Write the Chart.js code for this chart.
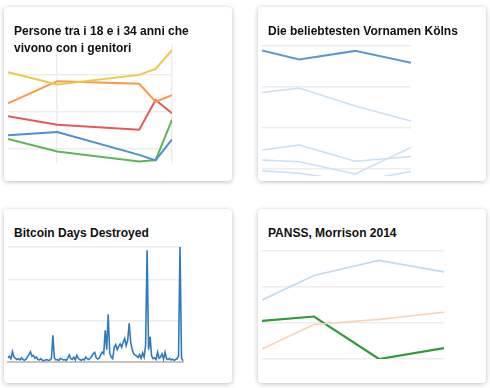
<!DOCTYPE html>
<html>
<head>
<meta charset="utf-8">
<script src="https://cdn.jsdelivr.net/npm/chart.js@4"></script>
<style>
  body { margin: 0; background: #fff; width: 490px; height: 388px; position: relative; overflow: hidden;
         font-family: "Liberation Sans", Arial, sans-serif; }
  .card { position: absolute; width: 228px; height: 174px; background: #fff; border-radius: 4px;
          box-shadow: 0 1px 5px rgba(0, 0, 0, 0.25); overflow: hidden; }
  .card h4 { position: absolute; left: 10px; top: 16px; width: 200px; margin: 0; font-size: 12px;
             line-height: 17px; font-weight: bold; color: #111; z-index: 2; }
  .card canvas { position: absolute; left: 0; }
</style>
</head>
<body>
<div class="card" style="left:4px; top:7px;">
  <h4>Persone tra i 18 e i 34 anni che vivono con i genitori</h4>
  <canvas id="persone" width="172" height="126" style="top:34px;"></canvas>
</div>
<div class="card" style="left:258px; top:7px;">
  <h4>Die beliebtesten Vornamen Kölns</h4>
  <canvas id="vornamen" width="157" height="138" style="top:35px;"></canvas>
</div>
<div class="card" style="left:4px; top:209px;">
  <h4>Bitcoin Days Destroyed</h4>
  <canvas id="bitcoin" width="183" height="123" style="top:34px;"></canvas>
</div>
<div class="card" style="left:258px; top:209px;">
  <h4>PANSS, Morrison 2014</h4>
  <canvas id="panss" width="190" height="116" style="top:38px;"></canvas>
</div>
<script>
// --- Persone tra i 18 e i 34 anni (%)
const personeYears = [2004, 2007, 2012, 2013, 2014];
const personeA = [60.6, 57.3, 59.9, 61.5, 66.6];
const personeB = [52.2, 58.2, 57.5, 52.6, 54.4];
const personeC = [48.7, 46.4, 45.0, 53.1, 49.5];
const personeD = [43.5, 44.4, 38.2, 36.7, 42.4];
const personeE = [42.5, 39.1, 36.4, 36.8, 47.7];

// --- Vornamen Köln
const vornamenYears = [2010, 2012, 2015, 2018];
const marie = [389, 367, 388, 359];
const sophie = [286, 297, 253, 216];
const maria = [145, 157, 117, 129];
const emma = [120, 116, 86, 151];
const mia = [94, 88, 67, 92];

// --- Bitcoin Days Destroyed (relative units)
const bitcoinValues = [
  10, 14, 8, 25, 12, 9, 6, 8, 5, 10, 6, 4, 7, 12, 18, 25, 14, 16, 9, 12,
  6, 5, 8, 4, 3, 5, 6, 4, 5, 8, 65, 10, 5, 6, 4, 9, 7, 5, 6, 4,
  10, 17, 8, 6, 12, 5, 16, 9, 6, 4, 7, 5, 12, 8, 6, 9, 14, 20, 23, 10,
  7, 9, 18, 24, 20, 77, 30, 116, 22, 12, 8, 35, 42, 30, 38, 44, 36, 48, 57, 40,
  52, 94, 50, 30, 20, 17, 14, 11, 18, 9, 22, 12, 40, 271, 30, 61, 15, 8, 10, 6,
  24, 9, 12, 20, 7, 24, 8, 6, 9, 5, 7, 4, 6, 8, 14, 279, 10, 3
];
const bitcoinDays = bitcoinValues.map((_, i) => i);

// --- PANSS
const panssMonths = [0, 4, 9, 14];
const panssA = [73.2, 76.6, 78.7, 77.1];
const panssB = [66.4, 69.8, 70.5, 71.5];
const panssC = [70.3, 70.9, 65.0, 66.5];

const gridColor = '#ededed';

function axis(min, max, ticks) {
  return {
    type: 'linear', min, max,
    afterBuildTicks: s => { s.ticks = ticks.map(v => ({ value: v })); },
    ticks: { display: false },
    border: { display: false },
    grid: { display: ticks.length > 0, drawTicks: false, color: gridColor, lineWidth: 1.5 }
  };
}

function series(xs, ys, color, width) {
  return {
    data: xs.map((x, i) => ({ x, y: ys[i] })),
    borderColor: color, borderWidth: width, fill: false
  };
}

function makeChart(id, data, scales) {
  return new Chart(document.getElementById(id), {
    type: 'line',
    data,
    options: {
      responsive: false, animation: false, devicePixelRatio: 1,
      layout: { padding: 4 },
      plugins: { legend: { display: false }, tooltip: { enabled: false } },
      elements: { point: { radius: 0 }, line: { tension: 0 } },
      scales
    }
  });
}

makeChart('persone', {
  datasets: [
    series(personeYears, personeA, '#ecc84a', 2),
    series(personeYears, personeB, '#f89a4a', 2),
    series(personeYears, personeC, '#e25a5a', 2),
    series(personeYears, personeD, '#4b90d2', 2),
    series(personeYears, personeE, '#5cb656', 2)
  ]
}, {
  x: axis(2004, 2014, [2007, 2014]),
  y: axis(36, 68, [40, 50, 60])
});

makeChart('vornamen', {
  datasets: [
    series(vornamenYears, marie, '#5b98cf', 2),
    series(vornamenYears, sophie, '#cadff1', 1.5),
    series(vornamenYears, maria, '#cadff1', 1.5),
    series(vornamenYears, emma, '#cadff1', 1.5),
    series(vornamenYears, mia, '#cadff1', 1.5)
  ]
}, {
  x: axis(2010, 2018, []),
  y: axis(81, 400, [100, 200, 300, 400])
});

makeChart('bitcoin', {
  labels: bitcoinDays,
  datasets: [{ data: bitcoinValues, borderColor: '#2f7bbd', borderWidth: 1.6, fill: false }]
}, {
  x: {
    type: 'category',
    ticks: { display: false },
    grid: { display: false, drawTicks: false },
    border: { display: true, color: '#c4c4c4', width: 2 }
  },
  y: axis(0, 279, [100, 200, 279])
});

makeChart('panss', {
  datasets: [
    series(panssMonths, panssA, '#c3d9ee', 1.6),
    series(panssMonths, panssB, '#fad3b6', 1.6),
    series(panssMonths, panssC, '#2f9a3a', 2.2)
  ]
}, {
  x: axis(0, 14, []),
  y: axis(65, 80, [65, 70, 75, 80])
});
</script>
</body>
</html>
